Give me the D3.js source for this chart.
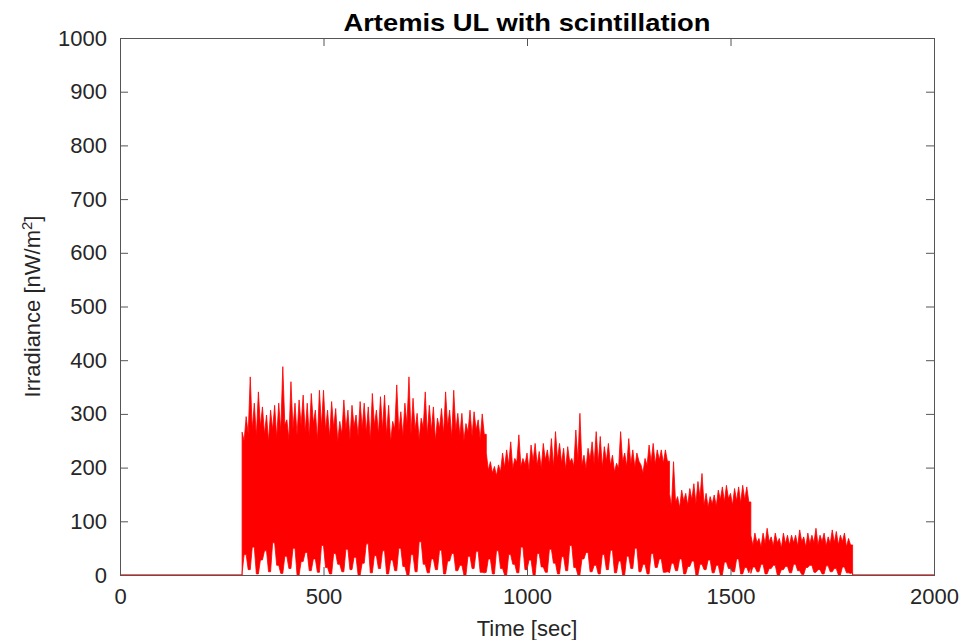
<!DOCTYPE html>
<html>
<head>
<meta charset="utf-8">
<script src="https://cdn.jsdelivr.net/npm/d3@7/dist/d3.min.js"></script>
<style>
	body { margin: 0; background: #fff; }
	svg text { font-family: "Liberation Sans", Arial, Helvetica, sans-serif; fill: #262626; }
</style>
</head>
<body>
<div id="chart"></div>
<script>
// Axis ticks:
var xTicks = [0, 500, 1000, 1500, 2000];
var yTicks = [0, 100, 200, 300, 400, 500, 600, 700, 800, 900, 1000];

// Signal segments (time in sec):
var segStart = [300, 900, 1350, 1550];
var segEnd   = [900, 1350, 1550, 1800];

// Upper peaks per ~10 sec bin (nW/m^2):
var seg1Hi = [266, 295, 369, 320, 341, 313, 298, 307, 316, 320, 388, 289, 360, 320, 326, 335, 320, 338, 307, 344,
              344, 307, 323, 310, 286, 326, 307, 316, 298, 323, 320, 313, 338, 307, 332, 335, 316, 286, 354, 304,
              320, 369, 329, 301, 292, 341, 316, 313, 292, 310, 341, 307, 344, 301, 301, 282, 307, 304, 289, 300];
var seg2Hi = [227, 211, 202, 205, 227, 233, 248, 217, 261, 217, 227, 242, 245, 230, 245, 233, 254, 267, 245, 236,
              239, 217, 270, 301, 223, 236, 248, 267, 258, 239, 245, 223, 208, 267, 227, 254, 233, 227, 205, 217,
              242, 245, 233, 233, 233];
var seg3Hi = [152, 211, 146, 158, 152, 161, 170, 174, 189, 152, 146, 149, 158, 164, 167, 152, 161, 164, 167, 164];
var seg4Hi = [74, 78, 68, 78, 87, 71, 78, 68, 78, 74, 74, 74, 84, 71, 78, 74, 87, 74, 78, 71, 84, 81, 74, 78, 68];

// Top of the solid band between the peaks:
var seg1Notch = [250, 262, 270, 258, 276, 262, 248, 270, 255, 268, 280, 252, 272, 260, 278, 266, 258, 282, 250, 275,
                 270, 256, 274, 248, 262, 270, 252, 276, 258, 272, 265, 250, 278, 262, 270, 260, 248, 272, 266, 258,
                 280, 262, 270, 252, 274, 260, 268, 250, 272, 262, 276, 255, 268, 260, 250, 266, 258, 270, 252, 262];
var seg2Notch = [195, 190, 185, 192, 200, 205, 198, 210, 202, 206, 195, 212, 204, 198, 214, 206, 200, 215, 208, 196,
                 210, 202, 212, 205, 198, 214, 206, 208, 200, 212, 204, 192, 198, 210, 202, 206, 200, 212, 190, 204,
                 210, 206, 214, 208, 212];
var seg3Notch = [128, 135, 125, 138, 130, 140, 132, 145, 130, 126, 132, 128, 140, 136, 142, 130, 138, 134, 140, 136];
var seg4Notch = [55, 60, 52, 58, 62, 54, 60, 50, 58, 56, 60, 54, 62, 52, 58, 60, 56, 62, 54, 58, 60, 56, 62, 52, 56];

// Lower troughs per bin:
var seg1Lo = [4, 38, 10, 52, 2, 28, 45, 6, 60, 18, 3, 35, 12, 50, 0, 25, 42, 8, 30, 5,
              55, 14, 2, 40, 20, 6, 48, 10, 33, 0, 22, 58, 4, 36, 12, 45, 2, 28, 8, 50,
              16, 0, 38, 6, 62, 20, 4, 30, 10, 46, 2, 26, 40, 8, 18, 0, 35, 12, 44, 5];
var seg2Lo = [6, 30, 2, 45, 12, 0, 38, 20, 4, 52, 10, 28, 0, 40, 15, 5, 48, 22, 2, 34,
              8, 55, 14, 0, 30, 42, 6, 18, 2, 38, 10, 46, 4, 26, 0, 35, 12, 50, 6, 20,
              2, 40, 14, 30, 5];
var seg3Lo = [4, 22, 8, 30, 2, 16, 26, 0, 20, 10, 28, 4, 18, 0, 24, 12, 6, 30, 2, 14];
var seg4Lo = [3, 15, 6, 20, 2, 12, 18, 0, 10, 16, 4, 20, 8, 1, 14, 18, 5, 10, 2, 17, 6, 12, 0, 15, 4];

var hiSegs = [seg1Hi, seg2Hi, seg3Hi, seg4Hi];
var notchSegs = [seg1Notch, seg2Notch, seg3Notch, seg4Notch];
var loSegs = [seg1Lo, seg2Lo, seg3Lo, seg4Lo];

var width = 964, height = 640;
var margin = { left: 120, right: 30, top: 38, bottom: 65 };
var plotW = width - margin.left - margin.right;
var plotH = height - margin.top - margin.bottom;

// Build the point list: a peak and a notch for each bin
var points = [{ t: 0, y1: 0, y0: 0 }, { t: 300, y1: 0, y0: 0 }];
hiSegs.forEach(function(hi, s){
	var n = hi.length;
	var step = (segEnd[s] - segStart[s]) / n;
	var lo = loSegs[s], notch = notchSegs[s];
	hi.forEach(function(v, i){
		points.push({ t: segStart[s] + i * step, y1: v, y0: lo[i] });
		points.push({ t: segStart[s] + (i + 0.5) * step, y1: notch[i], y0: lo[(i + 1) % n] });
	});
	points.push({ t: segEnd[s], y1: notch[n - 1], y0: lo[n - 1] });
});
points.push({ t: 1800, y1: 0, y0: 0 });
points.push({ t: 2000, y1: 0, y0: 0 });

var svg = d3.select("#chart")
	.append("svg")
	.attr("width", width)
	.attr("height", height);

var g = svg.append("g")
	.attr("transform", "translate(" + margin.left + "," + margin.top + ")");

var xScale = d3.scaleLinear().domain([0, 2000]).range([0, plotW]);
var yScale = d3.scaleLinear().domain([0, 1000]).range([plotH, 0]);

// Signal:
var area = d3.area()
	.x(function(d){ return xScale(d.t); })
	.y0(function(d){ return yScale(d.y0); })
	.y1(function(d){ return yScale(d.y1); });

var topLine = d3.line()
	.x(function(d){ return xScale(d.t); })
	.y(function(d){ return yScale(d.y1); });

var bottomLine = d3.line()
	.x(function(d){ return xScale(d.t); })
	.y(function(d){ return yScale(d.y0); });

g.append("path")
	.datum(points)
	.attr("d", area)
	.attr("fill", "#ff0000");

g.append("path")
	.datum(points)
	.attr("d", topLine)
	.attr("fill", "none")
	.attr("stroke", "#ff0000")
	.attr("stroke-width", 0.8);

g.append("path")
	.datum(points)
	.attr("d", bottomLine)
	.attr("fill", "none")
	.attr("stroke", "#ff0000")
	.attr("stroke-width", 0.8);

// Axes (MATLAB style, ticks inside, box on):
var tickLen = 8;
var axisColor = "#555";

g.append("rect")
	.attr("x", 0.5)
	.attr("y", 0.5)
	.attr("width", plotW)
	.attr("height", plotH)
	.attr("fill", "none")
	.attr("stroke", axisColor)
	.attr("stroke-width", 1);

var xAxisCall = d3.axisBottom(xScale).tickValues(xTicks).tickFormat(d3.format("d"))
	.tickSizeInner(-tickLen).tickSizeOuter(0).tickPadding(13);
var yAxisCall = d3.axisLeft(yScale).tickValues(yTicks).tickFormat(d3.format("d"))
	.tickSizeInner(-tickLen).tickSizeOuter(0).tickPadding(13);

g.append("g")
	.attr("transform", "translate(0," + plotH + ")")
	.call(xAxisCall);

g.append("g")
	.call(yAxisCall);

// Mirror ticks (top and right):
g.append("g")
	.call(d3.axisTop(xScale).tickValues(xTicks).tickSizeInner(-tickLen).tickSizeOuter(0).tickFormat(""));
g.append("g")
	.attr("transform", "translate(" + plotW + ",0)")
	.call(d3.axisRight(yScale).tickValues(yTicks).tickSizeInner(-tickLen).tickSizeOuter(0).tickFormat(""));

g.selectAll(".domain").remove();
g.selectAll(".tick line").attr("stroke", axisColor);
g.selectAll(".tick text")
	.attr("font-size", "22px")
	.style("fill", "#262626");

// Labels:
svg.append("text")
	.attr("x", margin.left + plotW / 2)
	.attr("y", 31)
	.attr("text-anchor", "middle")
	.attr("font-size", "24px")
	.attr("font-weight", "bold")
	.style("fill", "#000")
	.attr("textLength", 367)
	.attr("lengthAdjust", "spacingAndGlyphs")
	.text("Artemis UL with scintillation");

svg.append("text")
	.attr("x", margin.left + plotW / 2)
	.attr("y", 636)
	.attr("text-anchor", "middle")
	.attr("font-size", "22px")
	.text("Time [sec]");

var yLab = svg.append("text")
	.attr("transform", "translate(40," + (margin.top + plotH / 2) + ") rotate(-90)")
	.attr("text-anchor", "middle")
	.attr("font-size", "22px");
yLab.append("tspan").text("Irradiance [nW/m");
yLab.append("tspan").attr("baseline-shift", "super").attr("font-size", "15px").text("2");
yLab.append("tspan").text("]");
</script>
</body>
</html>
